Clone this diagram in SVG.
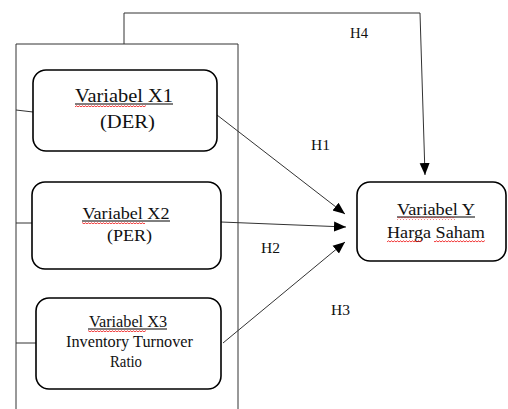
<svg xmlns="http://www.w3.org/2000/svg" width="508" height="409" viewBox="0 0 508 409">
<style>
.box{fill:#fff;stroke:#000;stroke-width:1.6}
.frame{fill:none;stroke:#333;stroke-width:1}
.con{fill:none;stroke:#333;stroke-width:1}
.t{font-family:"Liberation Serif","Times New Roman",serif;fill:#111;text-anchor:middle}
.ul{stroke:#000;stroke-width:1}
.wave{fill:url(#wave)}
.lbl{font-family:"Liberation Serif","Times New Roman",serif;font-size:15px;fill:#111}
</style>
<defs>
<marker id="arr" markerUnits="userSpaceOnUse" markerWidth="12" markerHeight="12" viewBox="0 0 12 12" refX="12" refY="6" orient="auto">
<path d="M0,1 L12,6 L0,11 Z" fill="#000"/>
</marker>
<pattern id="wave" patternUnits="userSpaceOnUse" width="3" height="3">
<path d="M0,2 L1.5,0.8 L3,2" fill="none" stroke="#e00" stroke-width="0.8"/>
</pattern>
</defs>
<rect width="508" height="409" fill="#fff"/>
<path class="frame" d="M16,410 L16,44 L238,44 L238,410"/>
<g id="connectors">
<path class="con" d="M124,44 L124,13 L420,13 L425,175" marker-end="url(#arr)"/>
<line class="con" x1="16" y1="110" x2="33" y2="112"/>
<line class="con" x1="16" y1="223" x2="32" y2="223"/>
<line class="con" x1="16" y1="343" x2="38" y2="343"/>
<line class="con" x1="217" y1="115" x2="345" y2="214" marker-end="url(#arr)"/>
<line class="con" x1="221" y1="222" x2="346" y2="227" marker-end="url(#arr)"/>
<line class="con" x1="223" y1="343" x2="345" y2="242" marker-end="url(#arr)"/>
<text class="lbl" x="350" y="38" textLength="18" lengthAdjust="spacingAndGlyphs">H4</text>
<text class="lbl" x="311" y="150" textLength="19" lengthAdjust="spacingAndGlyphs">H1</text>
<text class="lbl" x="261" y="253" textLength="19" lengthAdjust="spacingAndGlyphs">H2</text>
<text class="lbl" x="331" y="315" textLength="19" lengthAdjust="spacingAndGlyphs">H3</text>
</g>
<g id="x1">
<rect class="box" x="33" y="70" width="184" height="81" rx="13"/>
<text class="t" x="124" y="102" font-size="19.5" textLength="98" lengthAdjust="spacingAndGlyphs">Variabel X1</text>
<line class="ul" x1="75" y1="104" x2="173" y2="104"/>
<rect class="wave" x="75" y="104.5" width="71" height="2.5"/>
<text class="t" x="127.5" y="128" font-size="19.5" textLength="55" lengthAdjust="spacingAndGlyphs">(DER)</text>
</g>
<g id="x2">
<rect class="box" x="32" y="182" width="189" height="87" rx="13"/>
<text class="t" x="126" y="218.5" font-size="17.5" textLength="87" lengthAdjust="spacingAndGlyphs">Variabel X2</text>
<line class="ul" x1="82" y1="221" x2="170" y2="221"/>
<rect class="wave" x="82" y="221.5" width="63" height="2.5"/>
<text class="t" x="129.5" y="241" font-size="17.5" textLength="45" lengthAdjust="spacingAndGlyphs">(PER)</text>
</g>
<g id="x3">
<rect class="box" x="36" y="298" width="185" height="91" rx="13"/>
<text class="t" x="128" y="326.5" font-size="16" textLength="78" lengthAdjust="spacingAndGlyphs">Variabel X3</text>
<line class="ul" x1="88" y1="329" x2="167" y2="329"/>
<rect class="wave" x="88" y="329.5" width="58" height="2.5"/>
<text class="t" x="129.5" y="347" font-size="16" textLength="127" lengthAdjust="spacingAndGlyphs">Inventory Turnover</text>
<text class="t" x="126" y="367" font-size="16" textLength="32" lengthAdjust="spacingAndGlyphs">Ratio</text>
</g>
<g id="y">
<rect class="box" x="357" y="182" width="149" height="79" rx="13"/>
<text class="t" x="436" y="215" font-size="17.5" textLength="78" lengthAdjust="spacingAndGlyphs">Variabel Y</text>
<line class="ul" x1="397" y1="217" x2="475" y2="217"/>
<rect class="wave" x="397" y="217.5" width="58" height="2.5"/>
<text class="t" x="436" y="238" font-size="17.5" textLength="98" lengthAdjust="spacingAndGlyphs">Harga Saham</text>
<rect class="wave" x="387" y="240" width="35" height="2.5"/>
<rect class="wave" x="434" y="240" width="51" height="2.5"/>
</g>
</svg>
